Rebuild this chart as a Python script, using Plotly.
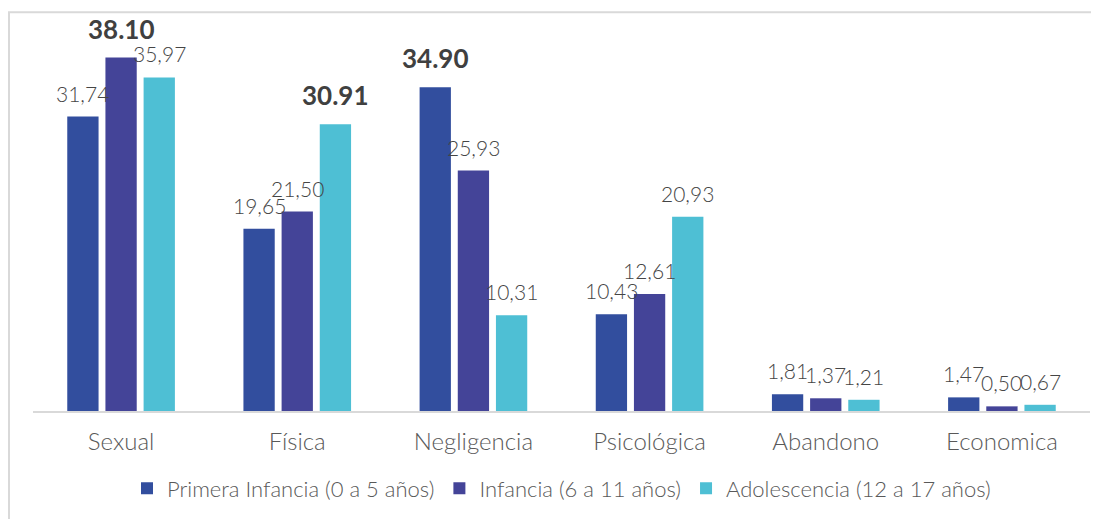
import plotly.graph_objects as go

categories = ["Sexual", "Física", "Negligencia", "Psicológica", "Abandono", "Economica"]
series_names = [
    "Primera Infancia (0 a 5 años)",
    "Infancia (6 a 11 años)",
    "Adolescencia (12 a 17 años)",
]
primera_infancia = [31.74, 19.65, 34.90, 10.43, 1.81, 1.47]
infancia = [38.10, 21.50, 25.93, 12.61, 1.37, 0.50]
adolescencia = [35.97, 30.91, 10.31, 20.93, 1.21, 0.67]
# (series index, category index) of the values shown emphasised in bold
highlighted = [(1, 0), (2, 1), (0, 2)]

COLORS = ["#324E9E", "#444498", "#4EBFD4"]
FONT = "Lato, 'Open Sans', sans-serif"
BARGAP = 0.35
BARGROUPGAP = 0.18

# the page body adds an 8px margin, so the figure is drawn 8px smaller
W, H = 1091, 511
L, R, T, B = 25, 9, 32, 106
plot_w = W - L - R
plot_h = H - T - B

series_values = [primera_infancia, infancia, adolescencia]

fig = go.Figure()
for name, values, color in zip(series_names, series_values, COLORS):
    fig.add_trace(
        go.Bar(
            x=categories,
            y=values,
            name=name,
            marker={"color": color, "line": {"width": 0}},
            hoverinfo="skip",
        )
    )

# value labels, centred over each bar of the group
n = len(series_values)
slot = (1 - BARGAP) / n
annotations = []
for i, values in enumerate(series_values):
    for j, v in enumerate(values):
        bold = (i, j) in highlighted
        if bold:
            text = "<b>%.2f</b>" % v
            font = {"family": FONT, "size": 26, "color": "#404040"}
            yshift = 11
        else:
            text = ("%.2f" % v).replace(".", ",")
            font = {"family": FONT, "size": 21, "color": "#454545", "weight": 300}
            yshift = 9
        annotations.append(
            dict(
                x=j - (1 - BARGAP) / 2 + (i + 0.5) * slot,
                y=v,
                xref="x",
                yref="y",
                text=text,
                showarrow=False,
                yanchor="bottom",
                yshift=yshift,
                font=font,
            )
        )

fig.update_layout(
    width=W,
    height=H,
    margin={"l": L, "r": R, "t": T, "b": B},
    paper_bgcolor="white",
    plot_bgcolor="white",
    barmode="group",
    bargap=BARGAP,
    bargroupgap=BARGROUPGAP,
    font={"family": FONT, "color": "#595959"},
    xaxis={
        "showgrid": False,
        "showline": True,
        "linecolor": "#D9D9D9",
        "linewidth": 2,
        "ticks": "",
        "ticklabelstandoff": 8,
        "tickfont": {"size": 24, "color": "#595959", "weight": 300},
        "fixedrange": True,
    },
    yaxis={
        "range": [0, 40],
        "visible": False,
        "showgrid": False,
        "zeroline": False,
        "fixedrange": True,
    },
    legend={
        "orientation": "h",
        "x": 0.5,
        "xanchor": "center",
        "y": -0.209,
        "yanchor": "middle",
        "font": {"size": 22, "color": "#595959", "weight": 300},
        "itemclick": False,
        "itemdoubleclick": False,
    },
    annotations=annotations,
    shapes=[
        dict(
            type="rect",
            xref="paper",
            yref="paper",
            x0=-(L - 1) / plot_w,
            x1=1.05,
            y0=-0.4,
            y1=(plot_h + T - 4) / plot_h,
            line={"color": "#D9D9D9", "width": 2},
            fillcolor="rgba(0,0,0,0)",
            layer="below",
        )
    ],
    showlegend=True,
)

fig.write_html("out.html")
